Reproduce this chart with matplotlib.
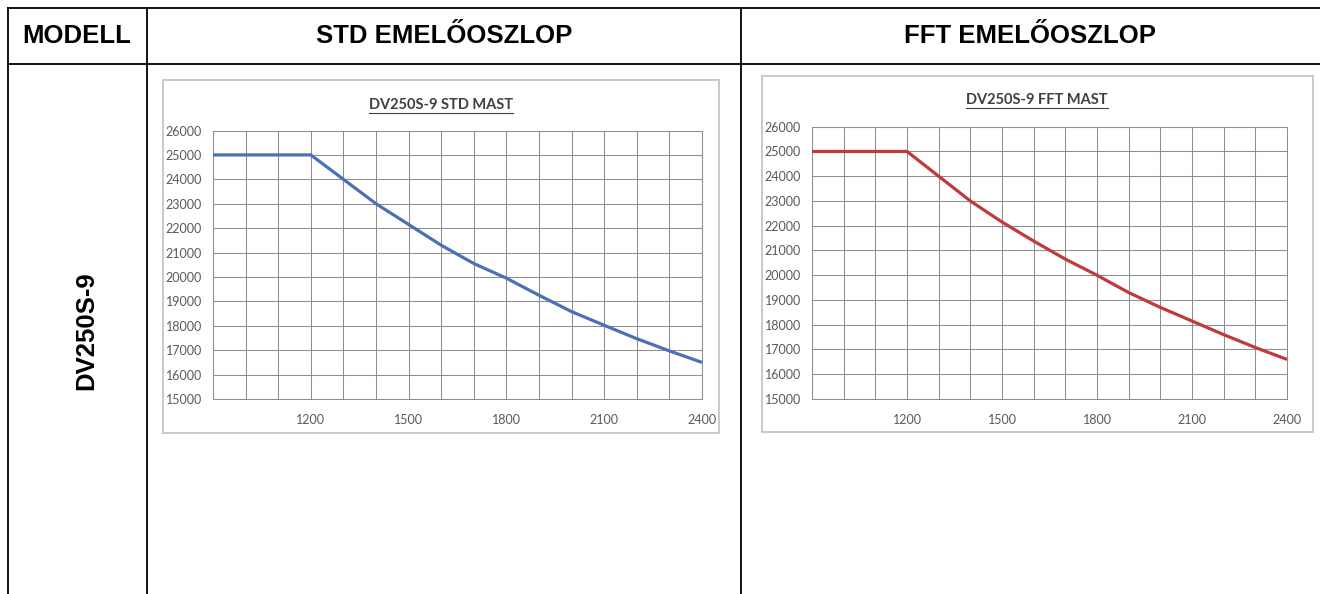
import matplotlib
matplotlib.use("Agg")
import matplotlib.pyplot as plt
from matplotlib.lines import Line2D
from matplotlib.patches import Rectangle
from matplotlib.ticker import MultipleLocator

W, H = 1320, 594

# Lift height (mm) and rated capacity (kg)
heights = [900, 1000, 1100, 1200, 1300, 1400, 1500, 1600,
           1700, 1800, 1900, 2000, 2100, 2200, 2300, 2400]
std_capacity = [25000, 25000, 25000, 25000, 24000, 23000, 22150, 21300,
                20550, 19950, 19250, 18580, 18020, 17470, 16970, 16500]
fft_capacity = [25000, 25000, 25000, 25000, 24000, 23000, 22150, 21380,
                20650, 20000, 19300, 18700, 18150, 17600, 17080, 16600]

x_labels = [1200, 1500, 1800, 2100, 2400]
y_range = (15000, 26000)

header_cols = ["MODELL", "STD EMELŐOSZLOP", "FFT EMELŐOSZLOP"]
model_name = "DV250S-9"
chart_titles = ["DV250S-9 STD MAST", "DV250S-9 FFT MAST"]
line_colors = ["#4a70b8", "#c0393b"]

fig = plt.figure(figsize=(W / 100, H / 100), dpi=100)
fig.patch.set_facecolor("white")


def fx(x):
    return x / W


def fy(y):
    return 1 - y / H


def hline(x0, x1, y, **kw):
    fig.add_artist(Line2D([fx(x0), fx(x1)], [fy(y), fy(y)],
                          transform=fig.transFigure, **kw))


def vline(x, y0, y1, **kw):
    fig.add_artist(Line2D([fx(x), fx(x)], [fy(y0), fy(y1)],
                          transform=fig.transFigure, **kw))


# Table grid
tbl = dict(color="black", lw=1.3, solid_capstyle="projecting")
hline(7.5, W, 7.5, **tbl)
hline(7.5, W, 64, **tbl)
vline(7.5, 7.5, H, **tbl)
vline(147, 7.5, H, **tbl)
vline(741, 7.5, H, **tbl)

head_font = dict(family="Liberation Sans", weight="bold", fontsize=18.5,
                 color="black", ha="center", va="center")
fig.text(fx(77), fy(36), header_cols[0], **head_font)
fig.text(fx(444), fy(36), header_cols[1], **head_font)
fig.text(fx(1030), fy(36), header_cols[2], **head_font)
fig.text(fx(86), fy(331), model_name, rotation=90, **head_font)

# Chart panels: frame box, plot area, title position
panels = [
    dict(frame=(163, 80, 719, 433), plot=(213, 130.5, 702, 399),
         title=(441, 105), series=std_capacity, color=line_colors[0],
         title_text=chart_titles[0]),
    dict(frame=(762, 76, 1313, 432), plot=(812, 126.7, 1287, 399),
         title=(1037, 100), series=fft_capacity, color=line_colors[1],
         title_text=chart_titles[1]),
]

title_artists = []
for p in panels:
    l, t, r, b = p["frame"]
    fig.add_artist(Rectangle((fx(l), fy(b)), (r - l) / W, (b - t) / H,
                             transform=fig.transFigure, facecolor="white",
                             edgecolor="#c9c9c9", lw=1.4, zorder=0))
    pl, pt, pr, pb = p["plot"]
    ax = fig.add_axes([fx(pl), fy(pb), (pr - pl) / W, (pb - pt) / H])
    ax.plot(heights, p["series"], color=p["color"], lw=2.3,
            solid_joinstyle="round", solid_capstyle="butt", zorder=3)
    ax.set_xlim(heights[0], heights[-1])
    ax.set_ylim(*y_range)
    ax.set_xticks(x_labels)
    ax.set_xticklabels([str(v) for v in x_labels])
    ax.xaxis.set_minor_locator(MultipleLocator(100))
    ax.yaxis.set_major_locator(MultipleLocator(1000))
    ax.grid(which="both", color="#8f8f8f", lw=0.75)
    ax.tick_params(which="both", length=0)
    ax.tick_params(axis="y", pad=8, labelsize=9, labelcolor="#595959")
    ax.tick_params(axis="x", pad=11, labelsize=9, labelcolor="#595959")
    for lab in ax.get_xticklabels() + ax.get_yticklabels():
        lab.set_family("Lato")
    for s in ax.spines.values():
        s.set_color("#8f8f8f")
        s.set_linewidth(0.75)
    ax.set_axisbelow(True)
    tx, ty = p["title"]
    title_artists.append(fig.text(fx(tx), fy(ty), p["title_text"],
                                  family="Lato", weight="bold", fontsize=10.5,
                                  color="#404040", ha="center", va="center"))

# Underline the chart titles
fig.canvas.draw()
renderer = fig.canvas.get_renderer()
for txt in title_artists:
    bb = txt.get_window_extent(renderer)
    y = bb.y0 - 1
    fig.add_artist(Line2D([bb.x0 / W, bb.x1 / W], [y / H, y / H],
                          transform=fig.transFigure, color="#404040", lw=0.8))

fig.savefig("out.png", dpi=100, facecolor="white")
